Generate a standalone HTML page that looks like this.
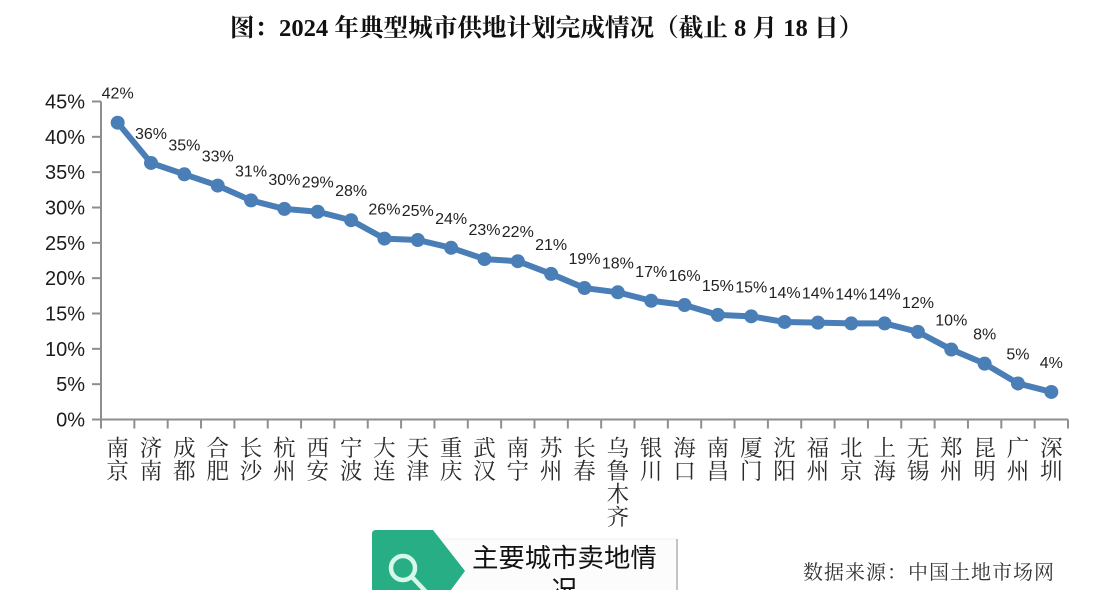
<!DOCTYPE html>
<html lang="zh">
<head>
<meta charset="utf-8">
<style>
html,body{margin:0;padding:0;background:#fff;}
#stage{position:relative;width:1101px;height:590px;overflow:hidden;background:#fff;}
svg{position:absolute;left:0;top:0;}
.ttl{font-family:"Liberation Serif","Noto Serif CJK SC",serif;font-weight:700;font-size:24.6px;fill:#111;}
.ytk{font-family:"Liberation Sans","Noto Sans CJK SC",sans-serif;font-size:20px;fill:#1c1c1c;}
.dl{font-family:"Liberation Sans","Noto Sans CJK SC",sans-serif;font-size:16px;fill:#222;}
.cat{font-family:"Liberation Sans","Noto Serif CJK SC",serif;font-size:22.5px;fill:#2a2a2a;}
.src{font-family:"Liberation Serif","Noto Serif CJK SC",serif;font-size:20px;fill:#333;letter-spacing:1px;}
.bnr{font-family:"Liberation Sans","Noto Sans CJK SC",sans-serif;font-size:26.4px;fill:#111;}
</style>
</head>
<body>
<div id="stage">
<svg id="chart" width="1101" height="590" viewBox="0 0 1101 590">
  <text class="ttl" x="546.5" y="36" text-anchor="middle" xml:space="preserve">图：2024 年典型城市供地计划完成情况（截止 8 月 18 日）</text>
  <g id="axes"></g>
  <g id="series"></g>
  <g id="labels"></g>
  <g id="cats"></g>

  <g>
    <rect x="420" y="539" width="256" height="60" fill="#fcfcfc"/>
    <line x1="420" y1="539" x2="677" y2="539" stroke="#f0f0f0" stroke-width="1"/>
    <line x1="677" y1="539" x2="677" y2="590" stroke="#c4c4c4" stroke-width="2"/>
    <path d="M376 530 H433 L465 571 L436 610 H372 V534 Q372 530 376 530 Z" fill="#27ae85"/>
    <circle cx="403" cy="568" r="12" fill="none" stroke="#d6f7ea" stroke-width="4.5"/>
    <line x1="412" y1="577" x2="428" y2="594" stroke="#d6f7ea" stroke-width="4.5"/>
    <text class="bnr" x="472" y="567">主要城市卖地情</text>
    <text class="bnr" x="551" y="599">况</text>
  </g>

  <text class="src" x="803" y="579">数据来源：中国土地市场网</text>
</svg>
</div>
<script>
const cities = ["南京","济南","成都","合肥","长沙","杭州","西安","宁波","大连","天津","重庆","武汉","南宁","苏州","长春","乌鲁木齐","银川","海口","南昌","厦门","沈阳","福州","北京","上海","无锡","郑州","昆明","广州","深圳"];
const completion = [42,36.3,34.7,33.1,31,29.8,29.4,28.2,25.6,25.4,24.3,22.7,22.4,20.6,18.6,18,16.8,16.2,14.8,14.6,13.8,13.7,13.6,13.6,12.4,9.9,7.9,5.1,3.9];
const printedLabels = ["42%","36%","35%","33%","31%","30%","29%","28%","26%","25%","24%","23%","22%","21%","19%","18%","17%","16%","15%","15%","14%","14%","14%","14%","12%","10%","8%","5%","4%"];
const yTicks = [0,5,10,15,20,25,30,35,40,45];

const NS = 'http://www.w3.org/2000/svg';
const plotLeft = 101, plotRight = 1068, plotBottom = 419.5, plotTop = 101.5, yMax = 45;
const band = (plotRight - plotLeft) / cities.length;
function xScale(i) { return plotLeft + band * (i + 0.5); }
function yScale(v) { return plotBottom - (v / yMax) * (plotBottom - plotTop); }
function mk(tag, attrs, parent) {
  const el = document.createElementNS(NS, tag);
  for (const k in attrs) el.setAttribute(k, attrs[k]);
  parent.appendChild(el);
  return el;
}
const axes = document.getElementById('axes');
const axisStyle = { stroke: '#8e8e8e', 'stroke-width': 2, fill: 'none' };

const yAxis = mk('line', Object.assign({ x1: plotLeft, y1: plotTop, x2: plotLeft, y2: plotBottom + 9 }, axisStyle), axes);


const xAxis = mk('line', Object.assign({ x1: 92, y1: plotBottom, x2: plotRight, y2: plotBottom }, axisStyle), axes);



yTicks.forEach(function (t) {
  const tick = mk('line', Object.assign({ x1: 92, y1: yScale(t), x2: plotLeft, y2: yScale(t) }, axisStyle), axes);
  
  
  const lab = mk('text', { class: 'ytk', x: 85, y: yScale(t) + 7, 'text-anchor': 'end' }, axes);
  lab.textContent = t + '%';
  
  
});

for (let i = 0; i <= cities.length; i++) {
  const bx = plotLeft + band * i;
  const tick = mk('line', Object.assign({ x1: bx, y1: plotBottom, x2: bx, y2: plotBottom + 9 }, axisStyle), axes);
  
  
}

const seriesG = document.getElementById('series');
const line = mk('polyline', {
  points: completion.map(function (v, i) { return xScale(i) + ',' + yScale(v); }).join(' '),
  fill: 'none', stroke: '#4a7eb6', 'stroke-width': 6, 'stroke-linejoin': 'round'
}, seriesG);



const labelsG = document.getElementById('labels');
completion.forEach(function (v, i) {
  const pt = mk('circle', { cx: xScale(i), cy: yScale(v), r: 7, fill: '#4a7eb6' }, seriesG);
  
  
  const lab = mk('text', { class: 'dl', x: xScale(i), y: yScale(v) - 24, 'text-anchor': 'middle' }, labelsG);
  lab.textContent = printedLabels[i];
  
  
});

const catsG = document.getElementById('cats');
cities.forEach(function (name, i) {
  const txt = mk('text', { class: 'cat', 'text-anchor': 'middle' }, catsG);
  
  
  Array.from(name).forEach(function (ch, j) {
    const s = mk('tspan', { x: xScale(i), y: 456 + j * 23 }, txt);
    s.textContent = ch;
  });
});
</script>
</body>
</html>
